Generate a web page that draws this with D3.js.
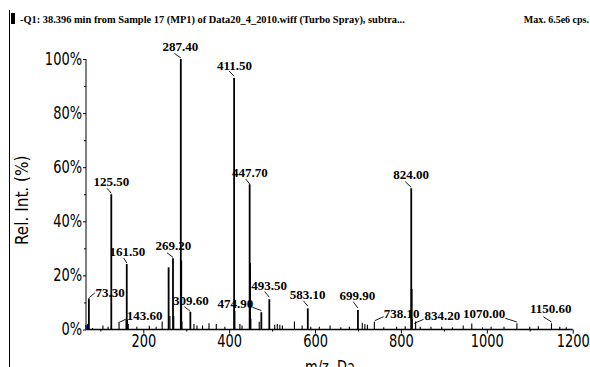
<!DOCTYPE html>
<html>
<head>
<meta charset="utf-8">
<script src="https://cdn.jsdelivr.net/npm/d3@7"></script>
<style>
  html, body { margin:0; padding:0; background:#fff; }
  svg { display:block; }
  .hdr   { font-family:"Liberation Serif","Times New Roman",serif; font-weight:bold; font-size:10px; }
  .tick text, .axlab { font-family:"Liberation Sans Narrow","DejaVu Sans Condensed","Liberation Sans",sans-serif; font-size:17px; fill:#000; }
  .plab  { font-family:"Liberation Serif","Times New Roman",serif; font-weight:bold; font-size:13px; }
  .lead  { stroke:#000; stroke-width:0.9; }
</style>
</head>
<body>
<div id="chart"></div>
<script>
/* Mass spectrum, -Q1 scan, relative intensity vs m/z (sticks) */

/* ---- data: peak m/z and relative intensity (%) ---- */
const PEAK_MZ  = [70, 82, 106, 118, 125.5, 143.6, 160, 161.5, 163, 165, 185, 214, 230, 244,
  259, 262, 269.2, 271, 287.4, 288.4, 290, 309.6, 318, 325, 338, 353, 370, 390,
  411.5, 412.5, 425, 430, 447.7, 448.7, 450.5, 470, 474.9, 493.5, 506, 512, 518, 524,
  552, 570, 583.1, 590, 610, 635, 660, 680, 699.9, 710, 716, 722, 738.1, 760, 790, 810,
  824, 825, 826, 834.2, 845, 870, 895, 920, 945, 965, 990, 1010, 1040, 1070, 1100, 1120,
  1150.6, 1170, 1185, 73.3];
const PEAK_INT = [2, 0.6, 1.5, 1, 50, 2.5, 3.6, 24.2, 3.6, 2, 1, 1.4, 1, 3,
  23, 5, 26.3, 5, 100, 25.5, 3, 6.5, 2, 1.5, 1.5, 2.3, 2, 1,
  93, 7, 2, 1.5, 53.7, 24.5, 4, 2.9, 6.4, 11.2, 1.8, 2, 1.8, 1.5,
  3, 1.5, 7.8, 1, 1, 1.5, 0.8, 1, 7.2, 2.5, 2, 1.8, 2.9, 0.8, 1, 1.2,
  52.2, 15, 4, 3, 1, 1, 1, 0.8, 1.5, 2.2, 0.8, 1, 1, 2.3, 1, 1.2,
  2.3, 1, 0.8, 11.5];

/* labelled peaks */
const LABELS = ["73.30","125.50","143.60","161.50","269.20","287.40","309.60","411.50","447.70",
  "474.90","493.50","583.10","699.90","738.10","824.00","834.20","1070.00","1150.60"];

const X_TICKS = [200, 400, 600, 800, 1000, 1200];
const Y_TICKS = [0, 20, 40, 60, 80, 100];
const TITLE = "-Q1: 38.396 min from Sample 17 (MP1) of Data20_4_2010.wiff (Turbo Spray), subtra...";
const MAXTXT = "Max. 6.5e6 cps.";

/* ---- layout: label placement relative to the peak top [anchor, dx, dy, leader x1,y1,x2,y2] ---- */
const PLACE = {
  "73.30":  ["start", 6.7, -1.6,   0.4,-0.8,  6, -5.5],
  "125.50": ["middle", 0.2, -8.3, -4.3,-6,    0, -1],
  "143.60": ["start", 7.7, -2.5,  -0.7, 0,    6.7,-3.5],
  "161.50": ["middle", 0.5, -8.3, -3,  -6,    0, -1],
  "269.20": ["middle", 0.3, -8.3, -6,  -5.6,  0, -1],
  "287.40": ["middle",-0.5, -8.3, -6.4,-5.6,  0, -1],
  "309.60": ["middle", 0.5, -7,   -6,  -5.3,  0, -0.5],
  "411.50": ["middle", 0.5, -8.4, -5,  -7,    0, -1.7],
  "447.70": ["middle", 0.2, -7.6, -4,  -5.3,  0, -0.3],
  "474.90": ["end",   -8,   -4,   -9,  -5,    0, -1.6],
  "493.50": ["middle",-0.2, -9.3, -4.7,-7.6,  0, -2],
  "583.10": ["middle",-0.2, -9,   -4.4,-7.6,  0, -2.3],
  "699.90": ["middle",-0.5, -10,  -4.7,-8.3,  0, -2],
  "738.10": ["start",  9.3, -3.4,  0.5,-1,    9.3,-5],
  "824.00": ["middle",-0.2, -9,   -6,  -6.6,  0, -1],
  "834.20": ["start",  9,   -1,   -1.4, 2,    8, -2],
  "1070.00":["end",  -11.6, -5,  -11.6,-5,    0, -1.3],
  "1150.60":["middle",-0.7, -10,  -8.2,-6.6,  0, -1.3]
};

const W = 590, H = 367;
const SQ = 0.85;   // horizontal squeeze: the original axis font is a condensed face
const x = d3.scaleLinear().domain([66.6, 1200]).range([86, 572.7]);
const y = d3.scaleLinear().domain([0, 100]).range([329.5, 59]);

const svg = d3.select("#chart").append("svg").attr("width", W).attr("height", H);

// frame + header
svg.append("line").attr("x1", 9.5).attr("x2", 9.5).attr("y1", 10).attr("y2", H).attr("stroke", "#000").attr("stroke-width", 1);
svg.append("rect").attr("x", 11).attr("y", 13).attr("width", 4).attr("height", 11).attr("fill", "#000");
svg.append("text").attr("class", "hdr").attr("x", 20).attr("y", 23.3).style("font-size", "10.4px").text(TITLE);
svg.append("text").attr("class", "hdr").attr("x", 589).attr("y", 23.3).attr("text-anchor", "end").text(MAXTXT);

// axes
const gy = svg.append("g").attr("transform", "translate(86,0)")
  .call(d3.axisLeft(y).tickValues(d3.range(0, 101, 10)).tickSize(3).tickFormat(d => Y_TICKS.includes(d) ? d + "%" : ""));
gy.selectAll(".tick line").attr("x2", d => Y_TICKS.includes(d) ? -3 : -2);
gy.selectAll(".tick text").attr("x", -4 / SQ).attr("transform", `scale(${SQ},1)`);
gy.select(".domain").attr("d", `M0,${y(100)}V${y(0)}`);

const gx = svg.append("g").attr("transform", `translate(0,${y(0)})`)
  .call(d3.axisBottom(x).tickValues(d3.range(100, 1201, 100)).tickSize(3).tickFormat(d => X_TICKS.includes(d) ? d : ""));
gx.selectAll(".tick line").attr("y2", d => X_TICKS.includes(d) ? 4 : 2);
gx.selectAll(".tick text").attr("y", 5).attr("dy", "0.71em").attr("transform", `scale(${SQ},1)`);
gx.select(".domain").attr("d", `M${x.range()[0]},0H${x.range()[1]}`).attr("stroke-width", 1.6);

svg.append("text").attr("class", "axlab").attr("text-anchor", "middle")
  .attr("transform", `translate(28,${(y(0) + y(100)) / 2 + 6}) rotate(-90)`).text("Rel. Int. (%)");
svg.append("text").attr("class", "axlab").attr("text-anchor", "middle")
  .attr("transform", `translate(330,373) scale(${SQ},1)`).text("m/z, Da");

// small blue marker at the origin
svg.append("rect").attr("x", 85).attr("y", y(1.6)).attr("width", 3).attr("height", y(0) - y(1.6)).attr("fill", "#1a1aa8");

// sticks
const peaks = PEAK_MZ.map((m, i) => ({ mz: m, v: PEAK_INT[i] }));
svg.append("g").selectAll("line").data(peaks).enter().append("line")
  .attr("x1", d => x(d.mz)).attr("x2", d => x(d.mz))
  .attr("y1", y(0)).attr("y2", d => y(d.v))
  .attr("stroke", "#000").attr("stroke-width", d => d.v > 5 ? 1.8 : 1.1);

// peak labels with leader lines
const lab = svg.append("g");
LABELS.forEach(t => {
  const p = peaks.find(d => Math.abs(d.mz - parseFloat(t)) < 0.01);
  const [anc, dx, dy, lx1, ly1, lx2, ly2] = PLACE[t];
  const px = x(p.mz), py = y(p.v);
  lab.append("line").attr("class", "lead")
    .attr("x1", px + lx1).attr("y1", py + ly1).attr("x2", px + lx2).attr("y2", py + ly2);
  lab.append("text").attr("class", "plab").attr("text-anchor", anc)
    .attr("x", px + dx).attr("y", py + dy).text(t);
});
</script>
</body>
</html>
